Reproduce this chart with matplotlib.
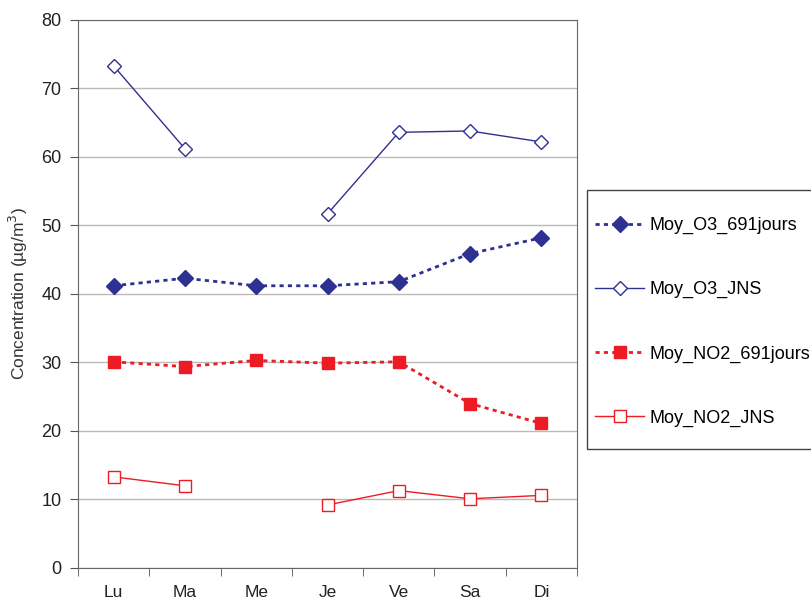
import numpy as np
import matplotlib.pyplot as plt
from matplotlib.patches import Rectangle

plt.rcParams['font.family'] = ['Liberation Sans', 'DejaVu Sans']

jours = ['Lu', 'Ma', 'Me', 'Je', 'Ve', 'Sa', 'Di']
o3_691 = [41.2, 42.3, 41.2, 41.2, 41.8, 45.9, 48.2]
o3_jns = [73.3, 61.2, np.nan, 51.7, 63.6, 63.8, 62.2]
no2_691 = [30.1, 29.4, 30.3, 29.9, 30.1, 24.0, 21.1]
no2_jns = [13.3, 12.0, np.nan, 9.2, 11.3, 10.1, 10.6]

blue = '#2e3192'
red = '#ed1c24'

fig = plt.figure(figsize=(8.11, 6.02), dpi=100)
ax = fig.add_axes([0.0962, 0.0565, 0.6153, 0.9103])
x = np.arange(len(jours))

ax.plot(x, o3_691, color=blue, ls=(0, (1.5, 1.5)), lw=2, marker='D', ms=8,
        label='Moy_O3_691jours')
ax.plot(x, o3_jns, color=blue, lw=1, marker='D', ms=7, mfc='white', mew=1,
        label='Moy_O3_JNS')
ax.plot(x, no2_691, color=red, ls=(0, (1.5, 1.5)), lw=2, marker='s', ms=9,
        label='Moy_NO2_691jours')
ax.plot(x, no2_jns, color=red, lw=1, marker='s', ms=9, mfc='white', mew=1,
        label='Moy_NO2_JNS')

ax.set_xlim(-0.5, 6.5)
ax.set_ylim(0, 80)
ax.set_yticks(range(0, 81, 10))
ax.set_xticks(x)
ax.set_xticklabels(jours)
ax.set_xticks(np.arange(-0.5, 7, 1), minor=True)
ax.tick_params(axis='x', which='major', length=0, pad=12, labelsize=12.5, colors='#222222')
ax.tick_params(axis='x', which='minor', length=6, color='#555555')
ax.tick_params(axis='y', length=6, pad=6, labelsize=13, colors='#222222', color='#555555')
ax.yaxis.grid(True, color='#bfb8b8', lw=1)
ax.set_axisbelow(True)
for s in ax.spines.values():
    s.set_color('#666666')
ax.set_ylabel('Concentration (µg/m$^3$)', fontsize=12.5, color='#333333', labelpad=8)

# legend frame drawn separately (box is taller than its entries need)
fig.patches.append(Rectangle((587 / 811, 1 - 449 / 602), 0.4, 259 / 602,
                             transform=fig.transFigure, fill=False,
                             edgecolor='#444444', lw=1))
leg = fig.legend(loc='upper left', bbox_to_anchor=(587 / 811, 1 - 209 / 602),
                 frameon=False, fontsize=13, handlelength=2.7,
                 labelspacing=2.6, borderpad=0.45, borderaxespad=0,
                 handletextpad=0.3)

fig.savefig('out.png', dpi=100)
